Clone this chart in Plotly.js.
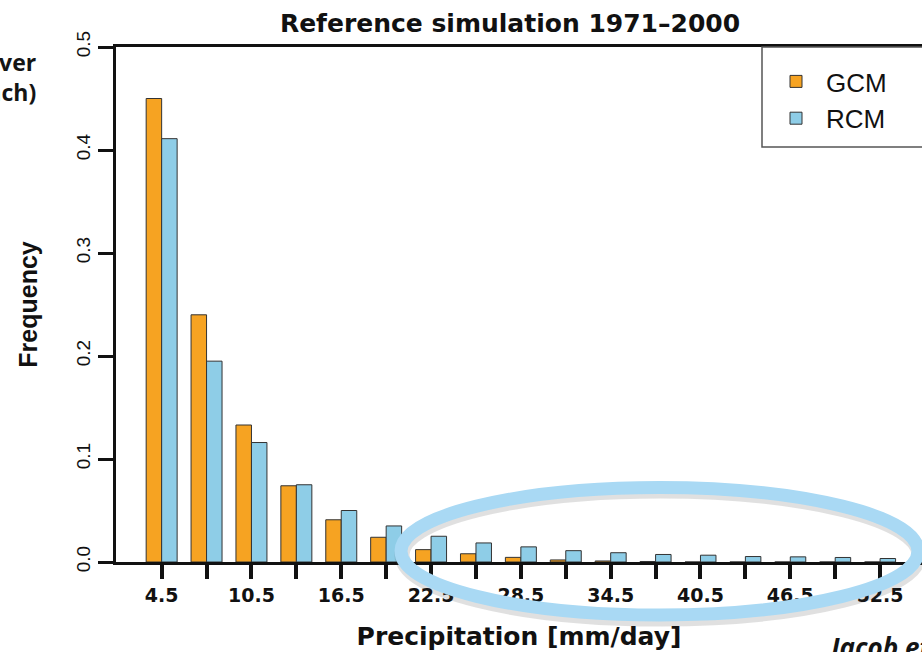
<!DOCTYPE html>
<html>
<head>
<meta charset="utf-8">
<script src="https://cdn.plot.ly/plotly-3.0.1.min.js"></script>
<style>
  html, body { margin: 0; padding: 0; background: #ffffff; overflow: hidden; }
  #chart { width: 922px; height: 652px; }
</style>
</head>
<body>
<div id="chart"></div>
<script>
// ---- data ----
const binCenters = [4.5, 7.5, 10.5, 13.5, 16.5, 19.5, 22.5, 25.5, 28.5, 31.5, 34.5, 37.5, 40.5, 43.5, 46.5, 49.5, 52.5];
const tickLabels = ['4.5', '', '10.5', '', '16.5', '', '22.5', '', '28.5', '', '34.5', '', '40.5', '', '46.5', '', '52.5'];
const gcmFreq = [0.450, 0.240, 0.133, 0.074, 0.041, 0.024, 0.012, 0.008, 0.0045, 0.002, 0.001, 0.0005, 0, 0, 0, 0, 0];
const rcmFreq = [0.411, 0.195, 0.116, 0.075, 0.050, 0.035, 0.025, 0.0185, 0.0147, 0.011, 0.009, 0.0073, 0.0066, 0.0053, 0.005, 0.0044, 0.0034];
const yTickVals = [0, 0.1, 0.2, 0.3, 0.4, 0.5];
const yTickText = ['0.0', '0.1', '0.2', '0.3', '0.4', '0.5'];
const seriesNames = ['GCM', 'RCM'];

// ---- geometry helpers (pixel -> paper) ----
const W = 922, H = 652, ML = 116, MR = 0, MT = 47, MB = 90;
const PW = W - ML - MR, PH = H - MT - MB;
const px2x = p => (p - ML) / PW;
const py2y = p => (H - MB - p) / PH;

const BOLD = {family: 'DejaVu Sans', weight: 'bold', color: '#111111'};

const traces = [
  {
    type: 'bar', name: seriesNames[0], x: binCenters, y: gcmFreq,
    marker: {color: '#F6A322', line: {color: '#333333', width: 1}},
    hoverinfo: 'x+y'
  },
  {
    type: 'bar', name: seriesNames[1], x: binCenters, y: rcmFreq,
    marker: {color: '#8ECDE7', line: {color: '#333333', width: 1}},
    hoverinfo: 'x+y'
  }
];

const layout = {
  width: W, height: H,
  margin: {l: ML, r: MR, t: MT, b: MB, pad: 0},
  paper_bgcolor: '#ffffff', plot_bgcolor: '#ffffff',
  barmode: 'group', bargap: 0.31, bargroupgap: 0,
  showlegend: true,
  title: {
    text: 'Reference simulation 1971\u20132000',
    font: Object.assign({size: 25}, BOLD),
    xref: 'paper', x: px2x(510), xanchor: 'center',
    yref: 'container', y: 1 - 23 / H, yanchor: 'middle'
  },
  xaxis: {
    range: [1.45, 55.3],
    tickmode: 'array', tickvals: binCenters, ticktext: tickLabels,
    ticks: 'outside', ticklen: 14, tickwidth: 4, tickcolor: '#111111',
    showline: true, linewidth: 3, linecolor: '#111111', mirror: true,
    showgrid: false, zeroline: false, automargin: false,
    tickfont: Object.assign({size: 19}, BOLD),
    title: {text: 'Precipitation [mm/day]', font: Object.assign({size: 25}, BOLD), standoff: 23}
  },
  yaxis: {
    range: [0, 0.5],
    tickmode: 'array', tickvals: yTickVals, ticktext: yTickText, tickangle: -90,
    ticks: 'outside', ticklen: 15, tickwidth: 3, tickcolor: '#111111',
    showline: true, linewidth: 3, linecolor: '#111111',
    showgrid: false, zeroline: false, automargin: false,
    tickfont: {family: 'Liberation Sans', size: 19, color: '#111111'},
    title: {text: 'Frequency', font: {family: 'Liberation Sans', size: 25, weight: 'bold', color: '#111111'}, standoff: 29}
  },
  legend: {
    x: px2x(766), xanchor: 'left',
    y: py2y(58), yanchor: 'top',
    bgcolor: 'rgba(0,0,0,0)', borderwidth: 0,
    itemwidth: 50,
    font: {family: 'Liberation Sans', size: 26, color: '#111111'}
  },
  shapes: [
    // legend box
    {type: 'rect', xref: 'paper', yref: 'paper', layer: 'above',
     x0: px2x(762), x1: 1.2, y0: py2y(147), y1: 1,
     line: {color: '#555555', width: 1.5}, fillcolor: 'rgba(0,0,0,0)'},
    // soft shadow of the highlight ring
    {type: 'circle', xref: 'paper', yref: 'paper', layer: 'above',
     x0: px2x(402), x1: px2x(919), y0: py2y(619), y1: py2y(491),
     line: {color: 'rgba(60,60,60,0.16)', width: 15}, fillcolor: 'rgba(0,0,0,0)'},
    // highlight ring
    {type: 'circle', xref: 'paper', yref: 'paper', layer: 'above',
     x0: px2x(401), x1: px2x(918), y0: py2y(615), y1: py2y(487.5),
     line: {color: '#A9D9F4', width: 13}, fillcolor: 'rgba(0,0,0,0)'}
  ],
  annotations: [
    {text: 'over<br>each)', xref: 'paper', yref: 'paper', x: px2x(38), xanchor: 'right',
     align: 'right', y: py2y(77), yanchor: 'middle', showarrow: false,
     font: {family: 'Open Sans', size: 23, weight: 'bold', color: '#141414'}},
    {text: 'Jacob et al.', xref: 'paper', yref: 'paper', x: px2x(824), xanchor: 'left',
     y: py2y(647), yanchor: 'middle', showarrow: false,
     font: {family: 'Open Sans', size: 26, weight: 'bold', style: 'italic', color: '#141414'}}
  ]
};

Plotly.newPlot('chart', traces, layout, {displayModeBar: false, staticPlot: true});
</script>
</body>
</html>
